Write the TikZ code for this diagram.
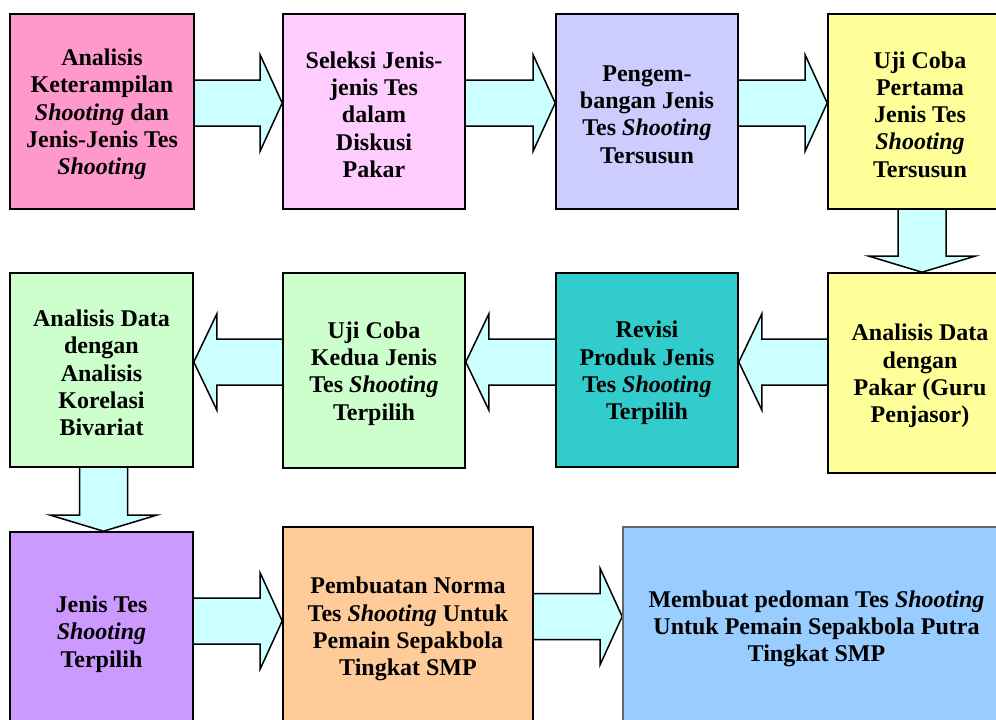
\documentclass[tikz,border=0pt]{standalone}
\usepackage{fontspec}
\setmainfont{Liberation Serif}
\usetikzlibrary{calc}
\pgfdeclarelayer{background}
\pgfsetlayers{background,main}
\definecolor{cPink}{HTML}{FF99CC}
\definecolor{cLpink}{HTML}{FFCCFF}
\definecolor{cLav}{HTML}{CCCCFF}
\definecolor{cYel}{HTML}{FFFF99}
\definecolor{cTeal}{HTML}{33CCCC}
\definecolor{cGreen}{HTML}{CCFFCC}
\definecolor{cPurp}{HTML}{CC99FF}
\definecolor{cOrange}{HTML}{FFCC99}
\definecolor{cBlue}{HTML}{99CCFF}
\definecolor{cArrow}{HTML}{CCFFFF}
\tikzset{
  stepbox/.style={draw=black, line width=1.6pt, rectangle, inner sep=0pt},
  steptext/.style={align=center, inner sep=0pt, font={\fontsize{24}{27.3}\selectfont\bfseries}},
  blockarrow/.style={draw=black, line width=1.5pt, fill=cArrow, line join=miter},
}
% box #1 with fill #2 at centre (#3,#4), size #5 x #6, text #7
\newcommand\stepnode[7]{%
  \node[stepbox, fill=#2, minimum width=#5pt, minimum height=#6pt] (#1) at (#3,#4) {};
  \node[steptext] (#1t) at ([yshift=-3pt]#1.center) {#7};}
% right-pointing block arrow from node #1 to node #2 at y=#3
\newcommand\blockR[3]{%
  \path (#1.east |- 0,#3) coordinate (s) (#2.west |- 0,#3) coordinate (t);
  \begin{pgfonlayer}{background}
  \filldraw[blockarrow] ($(s)+(0,-23)$) -- ($(t)+(-22,-23)$) -- ($(t)+(-22,-48)$) -- (t)
     -- ($(t)+(-22,48)$) -- ($(t)+(-22,23)$) -- ($(s)+(0,23)$);
  \end{pgfonlayer}}
% left-pointing block arrow from node #1 to node #2 at y=#3
\newcommand\blockL[3]{%
  \path (#1.west |- 0,#3) coordinate (s) (#2.east |- 0,#3) coordinate (t);
  \begin{pgfonlayer}{background}
  \filldraw[blockarrow] ($(s)+(0,-23)$) -- ($(t)+(23,-23)$) -- ($(t)+(23,-48)$) -- (t)
     -- ($(t)+(23,48)$) -- ($(t)+(23,23)$) -- ($(s)+(0,23)$);
  \end{pgfonlayer}}
% downward block arrow from node #1 to node #2 at x=#3
\newcommand\blockD[3]{%
  \path (#1.south -| #3,0) coordinate (s) (#2.north -| #3,0) coordinate (t);
  \begin{pgfonlayer}{background}
  \filldraw[blockarrow] ($(s)+(-24,0)$) -- ($(t)+(-24,-16)$) -- ($(t)+(-53,-16)$) -- (t)
     -- ($(t)+(53,-16)$) -- ($(t)+(24,-16)$) -- ($(s)+(24,0)$);
  \end{pgfonlayer}}
\begin{document}
\begin{tikzpicture}[x=1pt,y=-1pt]
\useasboundingbox (0,0) rectangle (996,720);
\clip (0,0) rectangle (996,720);
% row 1
\stepnode{b1}{cPink}{102}{111.5}{184}{195}
  {Analisis\\Keterampilan\\\textit{Shooting} dan\\Jenis-Jenis Tes\\\textit{Shooting}}
\stepnode{b2}{cLpink}{374}{111.5}{182}{195}
  {Seleksi Jenis-\\jenis Tes\\dalam\\Diskusi\\Pakar}
\stepnode{b3}{cLav}{647}{111.5}{182}{195}
  {Pengem-\\bangan Jenis\\Tes \textit{Shooting}\\Tersusun}
\stepnode{b4}{cYel}{920}{111.5}{184}{195}
  {Uji Coba\\Pertama\\Jenis Tes\\\textit{Shooting}\\Tersusun}
% row 2
\stepnode{b8}{cYel}{920}{373}{184}{200}
  {Analisis Data\\dengan\\Pakar (Guru\\Penjasor)}
\stepnode{b7}{cTeal}{647}{370}{182}{194}
  {Revisi\\Produk Jenis\\Tes \textit{Shooting}\\Terpilih}
\stepnode{b6}{cGreen}{374}{370.5}{182}{195}
  {Uji Coba\\Kedua Jenis\\Tes \textit{Shooting}\\Terpilih}
\stepnode{b5}{cGreen}{101.5}{370}{183}{194}
  {Analisis Data\\dengan\\Analisis\\Korelasi\\Bivariat}
% row 3
\stepnode{b9}{cPurp}{101.5}{631}{183}{198}
  {Jenis Tes\\\textit{Shooting}\\Terpilih}
\stepnode{b10}{cOrange}{408}{626}{250}{198}
  {Pembuatan Norma\\Tes \textit{Shooting} Untuk\\Pemain Sepakbola\\Tingkat SMP}
\node[stepbox, draw=black!60, fill=cBlue, minimum width=387pt, minimum height=198pt] (b11) at (816.5,626) {};
\node[steptext] (b11t) at ([yshift=-3pt]b11.center)
  {Membuat pedoman Tes \textit{Shooting}\\Untuk Pemain Sepakbola Putra\\Tingkat SMP};
% connectors
\blockR{b1}{b2}{103}
\blockR{b2}{b3}{103}
\blockR{b3}{b4}{103}
\blockD{b4}{b8}{922}
\blockL{b8}{b7}{362}
\blockL{b7}{b6}{362}
\blockL{b6}{b5}{362}
\blockD{b5}{b9}{103.5}
\blockR{b9}{b10}{621}
\blockR{b10}{b11}{616.5}
\end{tikzpicture}
\end{document}
